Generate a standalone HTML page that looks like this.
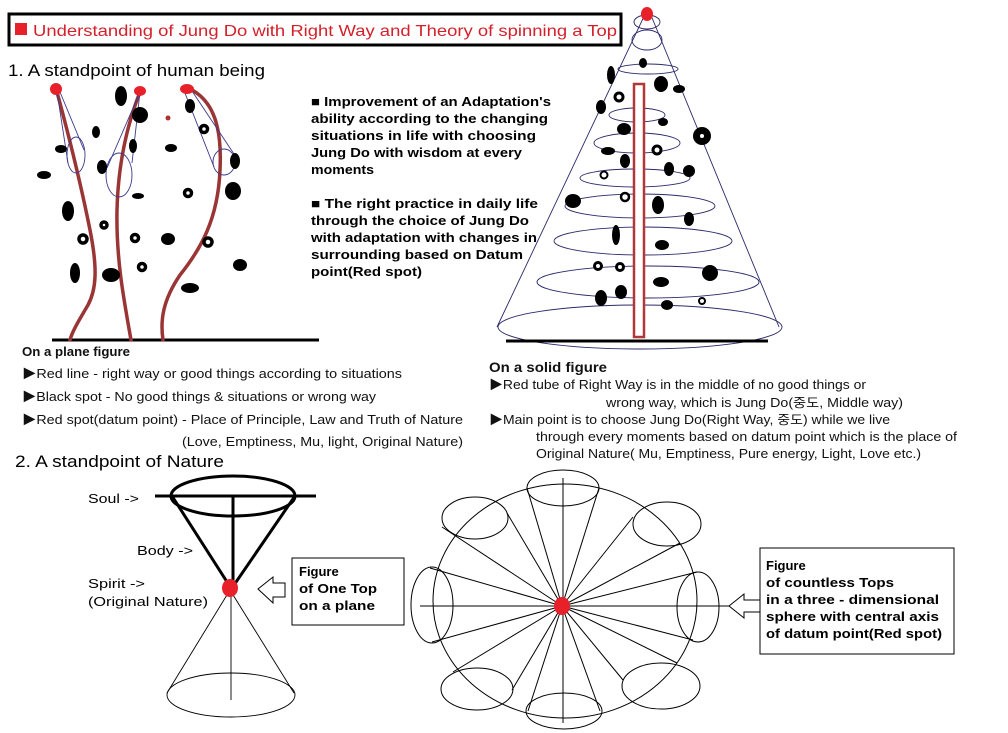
<!DOCTYPE html>
<html><head><meta charset="utf-8"><style>
html,body{margin:0;padding:0;background:#fff;}
svg{display:block;}
text{font-family:"Liberation Sans","Noto Sans CJK KR",sans-serif;}
.b{font-weight:bold;font-size:13px;fill:#000;}
.n{font-size:12.5px;fill:#111;}
.l{font-size:13px;fill:#000;}
</style></head><body>
<svg width="1008" height="733" viewBox="0 0 1008 733" xmlns="http://www.w3.org/2000/svg">
<!-- Title -->
<rect x="9" y="14" width="612" height="31" fill="none" stroke="#000" stroke-width="3"/>
<rect x="15" y="23" width="12" height="12" fill="#e8202a"/>
<text x="33" y="36" font-size="16" fill="#d4202a" textLength="584" lengthAdjust="spacingAndGlyphs">Understanding of Jung Do with Right Way and Theory of spinning a Top</text>
<text x="8" y="76" font-size="17" fill="#000" textLength="257" lengthAdjust="spacingAndGlyphs">1. A standpoint of human being</text>

<!-- Left figure -->
<line x1="52" y1="340" x2="319" y2="340" stroke="#000" stroke-width="3"/>
<g stroke="#9a3535" stroke-width="3.5" fill="none" stroke-linecap="round">
<path d="M57 92 C70 140 82 190 90 230 C98 270 96 290 88 305 C78 322 72 332 70 340"/>
<path d="M140 92 C125 130 118 170 117 210 C116 260 124 300 131 340"/>
<path d="M188 88 C215 100 222 130 220 170 C218 220 200 250 180 275 C163 300 160 320 163 340"/>
</g>
<g stroke="#3a3a8a" stroke-width="0.9" fill="none">
<line x1="57" y1="92" x2="68" y2="163"/><line x1="60" y1="92" x2="84" y2="150"/>
<ellipse cx="76" cy="155" rx="9" ry="18"/>
<line x1="140" y1="92" x2="107" y2="168"/><line x1="140" y1="92" x2="132" y2="163"/>
<ellipse cx="119" cy="175" rx="13" ry="22"/>
<line x1="183" y1="88" x2="214" y2="167"/><line x1="190" y1="88" x2="236" y2="157"/>
<ellipse cx="224" cy="162" rx="11" ry="13"/>
</g>
<g fill="#e8202a">
<ellipse cx="56" cy="89" rx="6" ry="6"/><ellipse cx="140" cy="91" rx="6" ry="5"/><ellipse cx="187" cy="89" rx="7" ry="5"/>
<circle cx="168" cy="118" r="2.5" fill="#b03030"/>
</g>
<g fill="#000">
<ellipse cx="121" cy="96" rx="6" ry="10"/><ellipse cx="140" cy="115" rx="8" ry="8"/><ellipse cx="96" cy="132" rx="4" ry="6"/>
<ellipse cx="61" cy="149" rx="6" ry="4"/><ellipse cx="133" cy="146" rx="4" ry="7"/><ellipse cx="171" cy="148" rx="6" ry="4"/>
<ellipse cx="44" cy="175" rx="7" ry="4"/><ellipse cx="102" cy="167" rx="5" ry="7"/><ellipse cx="190" cy="106" rx="5" ry="7"/>
<ellipse cx="235" cy="161" rx="5" ry="8"/><ellipse cx="138" cy="196" rx="6" ry="3"/><ellipse cx="233" cy="191" rx="8" ry="9"/>
<ellipse cx="68" cy="211" rx="6" ry="10"/><ellipse cx="168" cy="239" rx="7" ry="6"/><ellipse cx="75" cy="273" rx="5" ry="10"/>
<ellipse cx="111" cy="275" rx="9" ry="7"/><ellipse cx="190" cy="288" rx="9" ry="5"/><ellipse cx="240" cy="265" rx="7" ry="6"/>
</g>
<g fill="#fff" stroke="#000" stroke-width="3.5">
<circle cx="204" cy="129" r="3.5"/><circle cx="188" cy="193" r="3.5"/><circle cx="104" cy="225" r="3"/>
<circle cx="83" cy="239" r="4"/><circle cx="135" cy="238" r="3.5"/><circle cx="208" cy="242" r="4"/><circle cx="142" cy="267" r="3.5"/>
</g>

<!-- Bold paragraph -->
<g class="b">
<text x="311" y="106" textLength="240" lengthAdjust="spacingAndGlyphs">■ Improvement of an Adaptation's</text>
<text x="311" y="123" textLength="237" lengthAdjust="spacingAndGlyphs">ability according to the changing</text>
<text x="311" y="140" textLength="225" lengthAdjust="spacingAndGlyphs">situations in life with choosing</text>
<text x="311" y="157" textLength="211" lengthAdjust="spacingAndGlyphs">Jung Do with wisdom at every</text>
<text x="311" y="174" textLength="63" lengthAdjust="spacingAndGlyphs">moments</text>
<text x="311" y="208" textLength="227" lengthAdjust="spacingAndGlyphs">■ The right practice in daily life</text>
<text x="311" y="225" textLength="218" lengthAdjust="spacingAndGlyphs">through the choice of Jung Do</text>
<text x="311" y="242" textLength="226" lengthAdjust="spacingAndGlyphs">with adaptation with changes in</text>
<text x="311" y="259" textLength="212" lengthAdjust="spacingAndGlyphs">surrounding based on Datum</text>
<text x="311" y="276" textLength="111" lengthAdjust="spacingAndGlyphs">point(Red spot)</text>
</g>

<!-- Top cone -->
<g stroke="#2a2a6a" stroke-width="0.9" fill="none">
<line x1="648" y1="8" x2="497" y2="327"/><line x1="648" y1="8" x2="779" y2="327"/>
<ellipse cx="647" cy="22" rx="13" ry="7"/>
<ellipse cx="647" cy="40" rx="15" ry="10"/>
<ellipse cx="648" cy="69" rx="30" ry="5"/>
<ellipse cx="637" cy="115" rx="28" ry="7"/>
<ellipse cx="637" cy="143" rx="43" ry="10"/>
<ellipse cx="635" cy="178" rx="55" ry="9"/>
<ellipse cx="640" cy="206" rx="75" ry="12"/>
<ellipse cx="643" cy="241" rx="89" ry="14"/>
<ellipse cx="648" cy="282" rx="111" ry="16"/>
<ellipse cx="640" cy="327" rx="142" ry="22"/>
</g>
<line x1="506" y1="341" x2="768" y2="341" stroke="#000" stroke-width="3"/>
<rect x="634" y="84" width="10" height="253" fill="#fff" stroke="#b03838" stroke-width="2.5"/>
<ellipse cx="647" cy="14" rx="6" ry="7" fill="#e8202a"/>
<g fill="#000">
<ellipse cx="643" cy="63" rx="4" ry="5"/><ellipse cx="611" cy="75" rx="4" ry="9"/><ellipse cx="661" cy="84" rx="7" ry="8"/>
<ellipse cx="679" cy="89" rx="6" ry="4"/><ellipse cx="601" cy="107" rx="5" ry="7"/><ellipse cx="663" cy="122" rx="5" ry="4"/>
<ellipse cx="624" cy="129" rx="7" ry="6"/><ellipse cx="702" cy="136" rx="9" ry="9"/><ellipse cx="608" cy="151" rx="7" ry="4"/>
<ellipse cx="625" cy="161" rx="5" ry="7"/><ellipse cx="669" cy="169" rx="5" ry="7"/><ellipse cx="689" cy="171" rx="6" ry="6"/>
<ellipse cx="573" cy="201" rx="8" ry="7"/><ellipse cx="658" cy="205" rx="6" ry="9"/><ellipse cx="689" cy="219" rx="5" ry="7"/>
<ellipse cx="616" cy="235" rx="4" ry="10"/><ellipse cx="662" cy="245" rx="7" ry="5"/><ellipse cx="710" cy="273" rx="8" ry="8"/>
<ellipse cx="661" cy="282" rx="8" ry="5"/><ellipse cx="601" cy="298" rx="6" ry="8"/><ellipse cx="621" cy="292" rx="6" ry="7"/>
<ellipse cx="667" cy="305" rx="6" ry="5"/>
</g>
<g fill="#fff" stroke="#000" stroke-width="3">
<circle cx="619" cy="97" r="4"/><circle cx="702" cy="136" r="2" stroke-width="0" fill="#fff"/><circle cx="657" cy="150" r="4"/>
<circle cx="604" cy="175" r="3.5" stroke-width="2"/><circle cx="625" cy="197" r="4" stroke-width="2.5"/>
<circle cx="598" cy="266" r="3.5"/><circle cx="620" cy="267" r="3.5"/><circle cx="702" cy="301" r="3" stroke-width="2"/>
</g>

<!-- Text blocks -->
<g class="n">
<text x="22" y="356" font-weight="bold" textLength="108" lengthAdjust="spacingAndGlyphs">On a plane figure</text>
<text x="22" y="378" textLength="380" lengthAdjust="spacingAndGlyphs">▶Red line - right way or good things according to situations</text>
<text x="22" y="401" textLength="354" lengthAdjust="spacingAndGlyphs">▶Black spot - No good things &amp; situations or wrong way</text>
<text x="22" y="424" textLength="441" lengthAdjust="spacingAndGlyphs">▶Red spot(datum point) - Place of Principle, Law and Truth of Nature</text>
<text x="182" y="446" textLength="281" lengthAdjust="spacingAndGlyphs">(Love,  Emptiness, Mu, light, Original Nature)</text>
<text x="489" y="372" font-weight="bold" font-size="13.5" textLength="118" lengthAdjust="spacingAndGlyphs">On a solid figure</text>
<text x="489" y="389" textLength="377" lengthAdjust="spacingAndGlyphs">▶Red tube of Right Way is in the middle of no good things or</text>
<text x="606" y="407" textLength="297" lengthAdjust="spacingAndGlyphs">wrong way, which is Jung Do(중도, Middle way)</text>
<text x="489" y="424" textLength="401" lengthAdjust="spacingAndGlyphs">▶Main point is to choose Jung Do(Right Way, 중도) while we live</text>
<text x="536" y="441" textLength="421" lengthAdjust="spacingAndGlyphs">through every moments based on datum point which is the place of</text>
<text x="536" y="458" textLength="385" lengthAdjust="spacingAndGlyphs">Original Nature( Mu, Emptiness, Pure energy, Light, Love etc.)</text>
</g>
<text x="15" y="467" font-size="16.5" fill="#000" textLength="209" lengthAdjust="spacingAndGlyphs">2. A standpoint of Nature</text>

<!-- One top -->
<line x1="155" y1="496" x2="316" y2="496" stroke="#000" stroke-width="3"/>
<ellipse cx="233" cy="496" rx="62" ry="20" fill="none" stroke="#000" stroke-width="3"/>
<line x1="233" y1="496" x2="233" y2="588" stroke="#000" stroke-width="3"/>
<line x1="172" y1="496" x2="229" y2="585" stroke="#000" stroke-width="3"/>
<line x1="295" y1="496" x2="234" y2="585" stroke="#000" stroke-width="3"/>
<g stroke="#000" stroke-width="0.9" fill="none">
<line x1="230" y1="590" x2="167" y2="693"/><line x1="230" y1="590" x2="294" y2="693"/>
<line x1="231" y1="590" x2="231" y2="700"/>
<ellipse cx="231" cy="695" rx="64" ry="22"/>
</g>
<ellipse cx="230" cy="588" rx="8" ry="9" fill="#e8202a"/>
<g class="l">
<text x="88" y="503" textLength="51" lengthAdjust="spacingAndGlyphs">Soul -&gt;</text>
<text x="137" y="555" textLength="56" lengthAdjust="spacingAndGlyphs">Body -&gt;</text>
<text x="88" y="588" textLength="57" lengthAdjust="spacingAndGlyphs">Spirit -&gt;</text>
<text x="88" y="606" textLength="120" lengthAdjust="spacingAndGlyphs">(Original Nature)</text>
</g>
<path d="M258 589 L273 577 L273 583 L285 583 L285 597 L273 597 L273 603 Z" fill="#fff" stroke="#000" stroke-width="1"/>
<rect x="292" y="558" width="112" height="67" fill="#fff" stroke="#000" stroke-width="1"/>
<g class="b">
<text x="299" y="576">Figure</text>
<text x="299" y="593" textLength="78" lengthAdjust="spacingAndGlyphs">of One Top</text>
<text x="299" y="610" textLength="76" lengthAdjust="spacingAndGlyphs">on a plane</text>
</g>

<!-- Sphere -->
<g stroke="#000" stroke-width="1" fill="none">
<ellipse cx="565" cy="601" rx="132" ry="117"/>
<line x1="420" y1="606" x2="737" y2="606"/>
<line x1="563" y1="478" x2="563" y2="723"/>
<ellipse cx="563" cy="488" rx="36" ry="18"/>
<ellipse cx="475" cy="518" rx="33" ry="21"/>
<ellipse cx="667" cy="524" rx="34" ry="22"/>
<ellipse cx="432" cy="605" rx="21" ry="38"/>
<ellipse cx="698" cy="607" rx="21" ry="35"/>
<ellipse cx="477" cy="689" rx="36" ry="21"/>
<ellipse cx="564" cy="711" rx="38" ry="18"/>
<ellipse cx="661" cy="686" rx="39" ry="23"/>
<g>
<line x1="562" y1="606" x2="527" y2="488"/><line x1="562" y1="606" x2="599" y2="488"/>
<line x1="562" y1="606" x2="442" y2="527"/><line x1="562" y1="606" x2="507" y2="513"/>
<line x1="562" y1="606" x2="633" y2="517"/><line x1="562" y1="606" x2="680" y2="543"/>
<line x1="562" y1="606" x2="430" y2="568"/><line x1="562" y1="606" x2="432" y2="642"/>
<line x1="562" y1="606" x2="697" y2="572"/><line x1="562" y1="606" x2="693" y2="640"/>
<line x1="562" y1="606" x2="453" y2="672"/><line x1="562" y1="606" x2="512" y2="690"/>
<line x1="562" y1="606" x2="528" y2="711"/><line x1="562" y1="606" x2="600" y2="711"/>
<line x1="562" y1="606" x2="623" y2="680"/><line x1="562" y1="606" x2="677" y2="663"/>
</g>
</g>
<ellipse cx="562" cy="606" rx="8" ry="9" fill="#e8202a"/>
<path d="M729 606 L744 594 L744 600 L760 600 L760 612 L744 612 L744 618 Z" fill="#fff" stroke="#000" stroke-width="1"/>
<rect x="760" y="548" width="194" height="106" fill="#fff" stroke="#000" stroke-width="1"/>
<g class="b">
<text x="766" y="570">Figure</text>
<text x="766" y="587" textLength="128" lengthAdjust="spacingAndGlyphs">of countless Tops</text>
<text x="766" y="604" textLength="173" lengthAdjust="spacingAndGlyphs">in a three - dimensional</text>
<text x="766" y="621" textLength="173" lengthAdjust="spacingAndGlyphs">sphere with central axis</text>
<text x="766" y="638" textLength="176" lengthAdjust="spacingAndGlyphs">of datum point(Red spot)</text>
</g>
</svg>
</body></html>
